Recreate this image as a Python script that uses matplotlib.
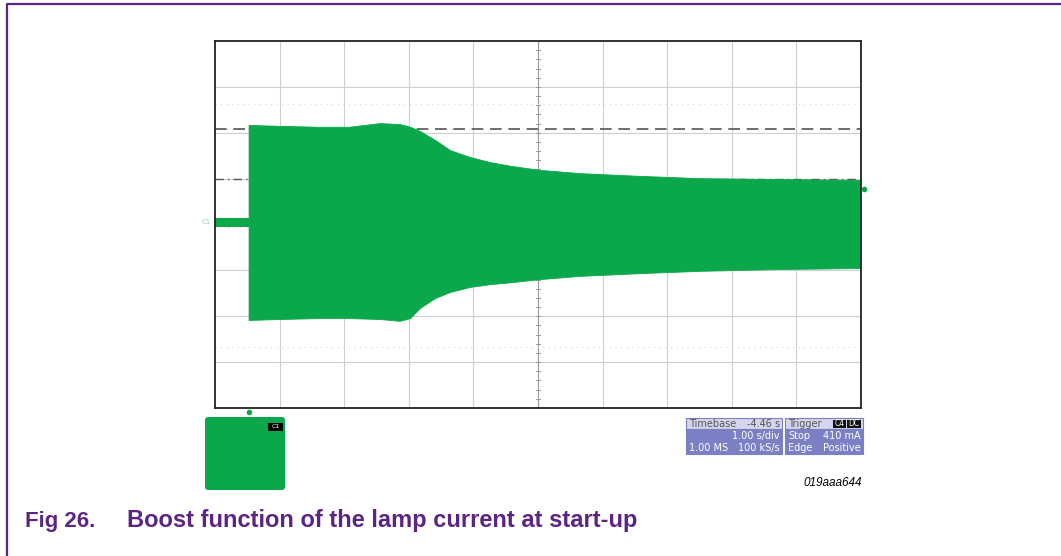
import matplotlib.pyplot as plt
from matplotlib.patches import Rectangle, FancyBboxPatch

# envelope of the lamp current trace (x in divisions, y in divisions)
pre_x = [0.0, 0.52]
pre_top = [0.14, 0.14]
pre_bot = [-0.06, -0.06]

env_x = [0.52, 0.54, 1.0, 1.61, 2.07, 2.55, 2.86, 3.02, 3.17, 3.41, 3.64, 3.95, 4.26, 4.57, 5.03, 5.65, 6.58, 7.51, 8.75, 9.98]
env_top = [2.17, 2.17, 2.15, 2.13, 2.13, 2.21, 2.19, 2.13, 2.04, 1.84, 1.62, 1.47, 1.36, 1.28, 1.19, 1.12, 1.06, 1.01, 0.99, 0.97]
env_bot = [-2.08, -2.08, -2.06, -2.04, -2.04, -2.06, -2.10, -2.04, -1.82, -1.60, -1.47, -1.36, -1.30, -1.26, -1.19, -1.12, -1.06, -1.01, -0.97, -0.95]

cursor_upper = 2.08
cursor_ref = 0.99
dotted_levels = [2.63, -2.67]

green = '#0aa84a'
purple = '#5c2483'

fig = plt.figure(figsize=(10.61, 5.56), dpi=100)
W, H = 1061, 556

ax = fig.add_axes([215 / W, (H - 408) / H, 646 / W, 367 / H])
ax.set_xlim(0, 10)
ax.set_ylim(-4, 4)
ax.set_xticks([])
ax.set_yticks([])
for s in ax.spines.values():
    s.set_linewidth(1.3)
    s.set_color('#222222')

for gx in range(1, 10):
    ax.axvline(gx, color='#cfcfcf', lw=0.8, zorder=0)
for gy in range(-3, 4):
    ax.axhline(gy, color='#cfcfcf', lw=0.8, zorder=0)

# centre crosshair with minor ticks
ax.axvline(5, color='#9a9a9a', lw=0.8, zorder=0)
for k in range(1, 40):
    ty = -4 + k * 0.2
    ax.plot([4.97, 5.03], [ty, ty], color='#9a9a9a', lw=0.7, zorder=0)
for k in range(1, 50):
    tx = k * 0.2
    ax.plot([tx, tx], [-0.05, 0.05], color='#b0b0b0', lw=0.7, zorder=0)

for lv in dotted_levels:
    ax.axhline(lv, color='#d8d8d8', lw=0.8, ls=(0, (1, 4)), zorder=0)

ax.axhline(cursor_upper, color='#555555', lw=1.2, ls=(0, (7, 4)), zorder=1)
ax.axhline(cursor_ref, color='#555555', lw=1.0, ls=(0, (6, 3, 1, 3)), zorder=1)

ax.fill_between(pre_x, pre_bot, pre_top, color=green, lw=0, zorder=2)
ax.fill_between(env_x, env_bot, env_top, color=green, lw=0.6, edgecolor=green, zorder=2)

# overlay in pixel coordinates for scope decorations and caption
ov = fig.add_axes([0, 0, 1, 1], zorder=5)
ov.set_xlim(0, W)
ov.set_ylim(H, 0)
ov.axis('off')
ov.patch.set_alpha(0)

ov.plot([7, 7, W], [H, 4, 4], color=purple, lw=1.6)

ov.text(206, 222, 'C1', color='#8fd0a8', fontsize=5, ha='center', va='center')
ov.plot([864], [189], marker='o', ms=3, color=green)
ov.plot([249], [412], marker='o', ms=3, color=green)

ov.add_patch(FancyBboxPatch((205, 417), 80, 73, boxstyle='round,pad=0,rounding_size=3',
                            fc=green, ec='none'))
ov.add_patch(Rectangle((268, 423), 15, 8, fc='black', ec='none'))
ov.text(275.5, 427, 'C1', color='white', fontsize=4.5, ha='center', va='center')

hdr = '#d4d5ec'
body = '#7b80c4'
fs = 7
# timebase box
ov.add_patch(Rectangle((686, 418), 96, 11, fc=hdr, ec='#7b80c4', lw=0.8))
ov.add_patch(Rectangle((686, 429), 96, 25, fc=body, ec='#7b80c4', lw=0.8))
ov.text(689, 424, 'Timebase', fontsize=fs, color='#555555', va='center')
ov.text(780, 424, '-4.46 s', fontsize=fs, color='#555555', va='center', ha='right')
ov.text(780, 436, '1.00 s/div', fontsize=fs, color='white', va='center', ha='right')
ov.text(689, 448, '1.00 MS', fontsize=fs, color='white', va='center')
ov.text(780, 448, '100 kS/s', fontsize=fs, color='white', va='center', ha='right')
# trigger box
ov.add_patch(Rectangle((785, 418), 78, 11, fc=hdr, ec='#7b80c4', lw=0.8))
ov.add_patch(Rectangle((785, 429), 78, 25, fc=body, ec='#7b80c4', lw=0.8))
ov.text(788, 424, 'Trigger', fontsize=fs, color='#555555', va='center')
ov.add_patch(Rectangle((833, 419.5), 13, 8.5, fc='#111111', ec='none'))
ov.add_patch(Rectangle((847, 419.5), 14, 8.5, fc='#111111', ec='none'))
ov.text(839.5, 424, 'C4', fontsize=5.5, color='white', va='center', ha='center')
ov.text(854, 424, 'DC', fontsize=5.5, color='white', va='center', ha='center')
ov.text(788, 436, 'Stop', fontsize=fs, color='white', va='center')
ov.text(861, 436, '410 mA', fontsize=fs, color='white', va='center', ha='right')
ov.text(788, 448, 'Edge', fontsize=fs, color='white', va='center')
ov.text(861, 448, 'Positive', fontsize=fs, color='white', va='center', ha='right')

ov.text(862, 483, '019aaa644', fontsize=8.5, style='italic', color='black',
        ha='right', va='center', family='Liberation Sans')

ov.text(25, 527, 'Fig 26.', fontsize=16, fontweight='bold', color=purple,
        ha='left', va='baseline', family='Liberation Sans')
ov.text(127, 527, 'Boost function of the lamp current at start-up', fontsize=17,
        fontweight='bold', color=purple, ha='left', va='baseline', family='Liberation Sans')

fig.savefig('out.png', dpi=100)
